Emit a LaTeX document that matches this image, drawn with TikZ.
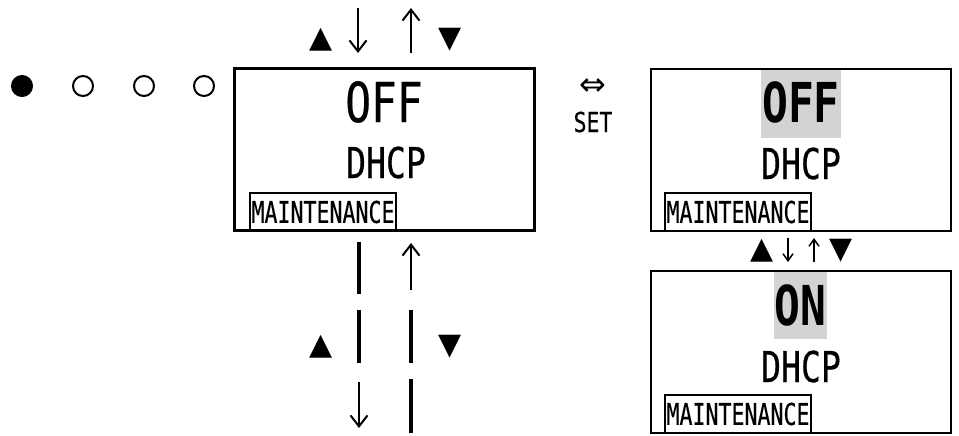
\documentclass[tikz,border=0pt]{standalone}
\usepackage{fontspec}
\usepackage{tikz}
\usetikzlibrary{arrows.meta,positioning,calc}
\newfontfamily\lcdfont[FakeStretch=0.78,FakeBold=0.4]{DejaVu Sans Mono}
\newfontfamily\boldlcdfont[FakeStretch=0.78]{DejaVu Sans Mono Bold}
\newfontfamily\tagfont[FakeStretch=0.72,FakeBold=0.4]{DejaVu Sans Mono}
\newfontfamily\symfont{DejaVu Sans}
\definecolor{HiliteGray}{RGB}{211,211,211}

\begin{document}
\begin{tikzpicture}[x=1pt,y=-1pt,
    screen/.style={draw, line width=2.6pt, minimum width=300pt, minimum height=162pt, inner sep=0pt},
    tagbox/.style={draw, line width=2pt, minimum width=146pt, minimum height=38pt, inner sep=0pt, anchor=south west, font=\tagfont\fontsize{30}{30}\selectfont},
    bigtext/.style={inner sep=0pt, anchor=base, font=\lcdfont\fontsize{55}{55}\selectfont},
    midtext/.style={inner sep=0pt, anchor=base, font=\lcdfont\fontsize{42.5}{42.5}\selectfont},
    hilite/.style={fill=HiliteGray, inner xsep=1pt, font=\boldlcdfont\fontsize{55}{55}\selectfont},
    keysym/.style={inner sep=0pt, font=\symfont\fontsize{30}{30}\selectfont},
    keylabel/.style={inner sep=0pt, anchor=base, font=\lcdfont\fontsize{27.5}{27.5}\selectfont},
    dot/.style={circle, draw, line width=2pt, minimum size=20pt, inner sep=0pt},
    bar/.style={line width=4pt},
    keyarrow/.style={line width=2pt, -{Straight Barb[length=11pt,width=17pt]}},
    smallarrow/.style={line width=1.5pt, -{Straight Barb[length=7pt,width=10pt]}}]
  \useasboundingbox (0,0) rectangle (959,436);

  % position dots
  \foreach \x/\f [count=\i] in {22/black,83/white,144/white,204/white}
    \node[dot, fill=\f] (dot\i) at (\x,86) {};

  % highlighted values first, so the frames stay on top
  \node[bigtext, hilite, text height=53pt, text depth=16pt] (offR) at (801,122) {OFF};
  \node[bigtext, hilite, text height=55pt, text depth=14pt] (onR) at (800.5,325) {ON};

  % screens
  \node[screen] (mainscr) at (384.5,149.5) {};
  \node[screen] (offscr) at (801,150) {};
  \node[screen] (onscr) at (801,352) {};

  \node[bigtext] (offL) at (384,122) {OFF};
  \node[midtext] (dhcpL) at (386,178) {DHCP};
  \node[tagbox] (tagL) at (249,232) {MAINTENANCE};

  \node[midtext] (dhcpR) at (801,179) {DHCP};
  \node[tagbox] (tagR) at (664,232) {MAINTENANCE};

  \node[midtext] (dhcpO) at (801,382) {DHCP};
  \node[tagbox] (tagO) at (664,434) {MAINTENANCE};

  % SET key
  \node[keysym, font=\symfont\fontsize{32}{32}\selectfont] (swap) at (593,87) {⇔};
  \node[keylabel] (setkey) at (593,132) {SET};

  % up/down keys
  \node[keysym] (upT) at (321,40) {▲};
  \node[keysym] (dnT) at (450,40) {▼};
  \node[keysym] (upR) at (762,251) {▲};
  \node[keysym] (dnR) at (841,251) {▼};
  \node[keysym] (upB) at (321,347) {▲};
  \node[keysym] (dnB) at (450,347) {▼};

  \coordinate (arrTa) at (358,8);  \coordinate (arrTb) at (358,53);
  \coordinate (arrTc) at (411,53); \coordinate (arrTd) at (411,8);
  \draw[keyarrow] (arrTa) -- (arrTb);
  \draw[keyarrow] (arrTc) -- (arrTd);

  \coordinate (arrRa) at (788,238); \coordinate (arrRb) at (788,262);
  \coordinate (arrRc) at (814,262); \coordinate (arrRd) at (814,238);
  \draw[smallarrow] (arrRa) -- (arrRb);
  \draw[smallarrow] (arrRc) -- (arrRd);

  % broken columns below the main screen
  \foreach \n/\x/\ya/\yb in {barLa/359/242/294, barLb/359/310/363, barRb/411/310/363, barRc/411/379/433} {
    \coordinate (\n-s) at (\x,\ya);
    \coordinate (\n-e) at (\x,\yb);
    \draw[bar] (\n-s) -- (\n-e);
  }
  \coordinate (arrBa) at (359,382); \coordinate (arrBb) at (359,428);
  \coordinate (arrBc) at (411,290); \coordinate (arrBd) at (411,243);
  \draw[keyarrow] (arrBa) -- (arrBb);
  \draw[keyarrow] (arrBc) -- (arrBd);
\end{tikzpicture}
\end{document}
